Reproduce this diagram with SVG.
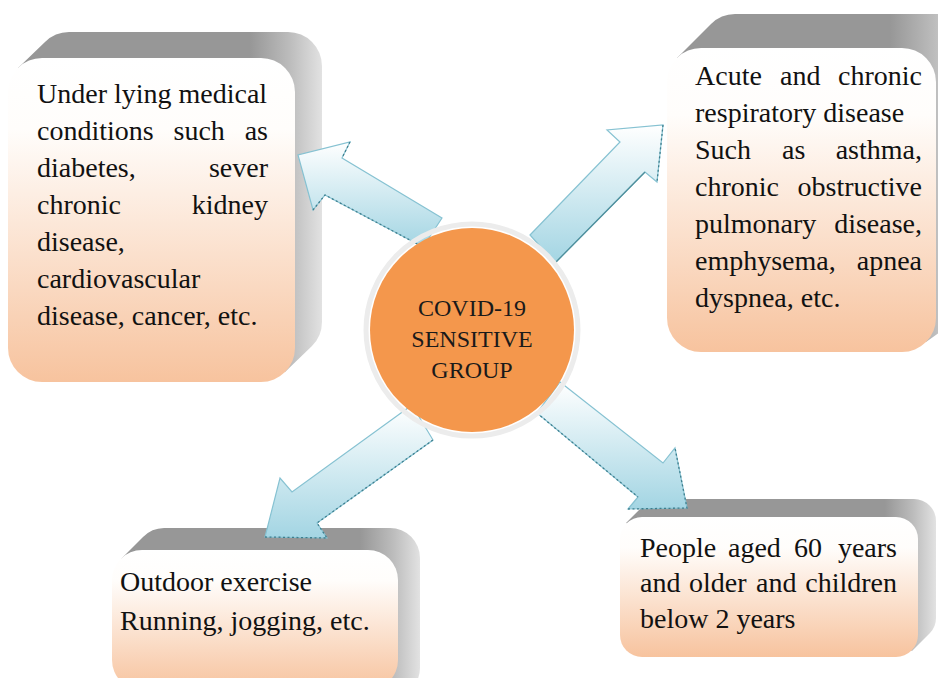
<svg xmlns="http://www.w3.org/2000/svg" width="938" height="678" viewBox="0 0 938 678">
<defs>
<style>
.t{font-family:'Liberation Serif','DejaVu Serif',serif;font-size:28px;fill:#111111}
.c{font-family:'Liberation Serif','DejaVu Serif',serif;font-size:24px;fill:#1a1a1a;text-anchor:middle}
.e{text-anchor:end}
.face{fill:url(#peach)}
.arrow{fill:url(#blue);stroke:#86c2d2;stroke-width:1.2;stroke-linejoin:miter}
.shade{fill:none;stroke:#3f7f8e;stroke-width:1.3;stroke-dasharray:2 2.5}
</style>
<linearGradient id="peach" x1="0" y1="0" x2="0" y2="1">
<stop offset="0" stop-color="#ffffff"/>
<stop offset="0.22" stop-color="#fffdfb"/>
<stop offset="1" stop-color="#f7c39e"/>
</linearGradient>
<linearGradient id="blue" x1="0" y1="0" x2="0" y2="1">
<stop offset="0" stop-color="#ffffff"/>
<stop offset="1" stop-color="#a3d5e3"/>
</linearGradient>
<linearGradient id="g1" gradientUnits="userSpaceOnUse" x1="250" y1="0" x2="322" y2="0">
<stop offset="0" stop-color="#979797"/>
<stop offset="0.55" stop-color="#bcbcbc"/>
<stop offset="1" stop-color="#e2e2e2"/>
</linearGradient>
<linearGradient id="g2" gradientUnits="userSpaceOnUse" x1="890" y1="0" x2="970" y2="0">
<stop offset="0" stop-color="#979797"/>
<stop offset="0.55" stop-color="#bcbcbc"/>
<stop offset="1" stop-color="#e2e2e2"/>
</linearGradient>
<linearGradient id="g3" gradientUnits="userSpaceOnUse" x1="360" y1="0" x2="420" y2="0">
<stop offset="0" stop-color="#979797"/>
<stop offset="0.55" stop-color="#bcbcbc"/>
<stop offset="1" stop-color="#e2e2e2"/>
</linearGradient>
<linearGradient id="g4" gradientUnits="userSpaceOnUse" x1="885" y1="0" x2="936" y2="0">
<stop offset="0" stop-color="#979797"/>
<stop offset="0.55" stop-color="#bcbcbc"/>
<stop offset="1" stop-color="#e2e2e2"/>
</linearGradient>
</defs>
<rect width="938" height="678" fill="#ffffff"/>

<g id="box-underlying">
<path d="M18,68 L45,42 A34,34 0 0 1 69,32 L288,32 A34,34 0 0 1 322,66 L322,322 A34,34 0 0 1 312,346 L285,372 Z" fill="url(#g1)"/>
<rect class="face" x="8" y="58" width="287" height="324" rx="34"/>
<text class="t" x="37" y="102.5">Under lying medical</text>
<text class="t" y="139.5"><tspan x="37">conditions</tspan><tspan x="173.5">such</tspan><tspan class="e" x="268">as</tspan></text>
<text class="t" y="176.5"><tspan x="37">diabetes,</tspan><tspan class="e" x="268">sever</tspan></text>
<text class="t" y="213.5"><tspan x="37">chronic</tspan><tspan class="e" x="268">kidney</tspan></text>
<text class="t" x="37" y="250.5">disease,</text>
<text class="t" x="37" y="287.5">cardiovascular</text>
<text class="t" x="37" y="324.5">disease, cancer, etc.</text>
</g>

<g id="box-respiratory">
<path d="M677,58 L711,24 A34,34 0 0 1 735,14 L936,14 A34,34 0 0 1 970,48 L970,294 A34,34 0 0 1 960,318 L926,342 Z" fill="url(#g2)"/>
<rect class="face" x="667" y="48" width="269" height="304" rx="34"/>
<text class="t" y="85"><tspan x="695">Acute</tspan><tspan x="780">and</tspan><tspan class="e" x="922">chronic</tspan></text>
<text class="t" x="695" y="122">respiratory disease</text>
<text class="t" y="159"><tspan x="695">Such</tspan><tspan x="782">as</tspan><tspan class="e" x="922">asthma,</tspan></text>
<text class="t" y="196"><tspan x="695">chronic</tspan><tspan class="e" x="922">obstructive</tspan></text>
<text class="t" y="233"><tspan x="695">pulmonary</tspan><tspan class="e" x="922">disease,</tspan></text>
<text class="t" y="270"><tspan x="695">emphysema,</tspan><tspan class="e" x="922">apnea</tspan></text>
<text class="t" x="695" y="307">dyspnea, etc.</text>
</g>

<g id="box-outdoor">
<path d="M121,559 L143,537 A30,30 0 0 1 164,528 L390,528 A30,30 0 0 1 420,558 L420,668 A30,30 0 0 1 411,689 L389,711 Z" fill="url(#g3)"/>
<rect class="face" x="112" y="550" width="286" height="140" rx="30"/>
<text class="t" x="120" y="591">Outdoor exercise</text>
<text class="t" x="120" y="630">Running, jogging, etc.</text>
</g>

<g id="box-age">
<path d="M626,523 L644,505 A22,22 0 0 1 660,499 L914,499 A22,22 0 0 1 936,521 L936,617 A22,22 0 0 1 930,633 L912,651 Z" fill="url(#g4)"/>
<rect class="face" x="620" y="517" width="298" height="140" rx="22"/>
<text class="t" y="557"><tspan x="640">People</tspan><tspan x="728">aged</tspan><tspan x="794">60</tspan><tspan class="e" x="897">years</tspan></text>
<text class="t" y="592"><tspan x="640">and</tspan><tspan x="689">older</tspan><tspan x="756">and</tspan><tspan class="e" x="897">children</tspan></text>
<text class="t" x="640" y="628">below 2 years</text>
</g>

<g id="connectors">
<polygon class="arrow" points="442,218 342,158 350,142 298,155 313,210 325,195 423,247"/>
<polyline class="shade" points="313,210 325,195 423,247"/>
<polyline class="shade" points="350,142 342,158"/>
<polygon class="arrow" points="530,235 620,142 607,130 663,125 657,182 645,172 555,263"/>
<polyline class="shade" points="663,125 657,182"/>
<line x1="645" y1="172" x2="555" y2="263" stroke="#4f8f9c" stroke-width="1.3"/>
<polygon class="arrow" points="412,405 292,492 280,478 265,537 327,538 317,523 433,440"/>
<polyline class="shade" points="265,537 327,538 317,523 433,440"/>
<polygon class="arrow" points="560,382 663,463 675,448 687,508 628,509 638,497 537,413"/>
<polyline class="shade" points="537,413 638,497"/>
<polyline class="shade" points="628,509 687,508 675,448"/>
</g>

<g id="center">
<circle cx="472" cy="330" r="106" fill="none" stroke="#ececec" stroke-width="5"/>
<circle cx="472" cy="330" r="102" fill="#f4974c"/>
<text class="c" x="472" y="316">COVID-19</text>
<text class="c" x="472" y="347">SENSITIVE</text>
<text class="c" x="472" y="378">GROUP</text>
</g>
</svg>
